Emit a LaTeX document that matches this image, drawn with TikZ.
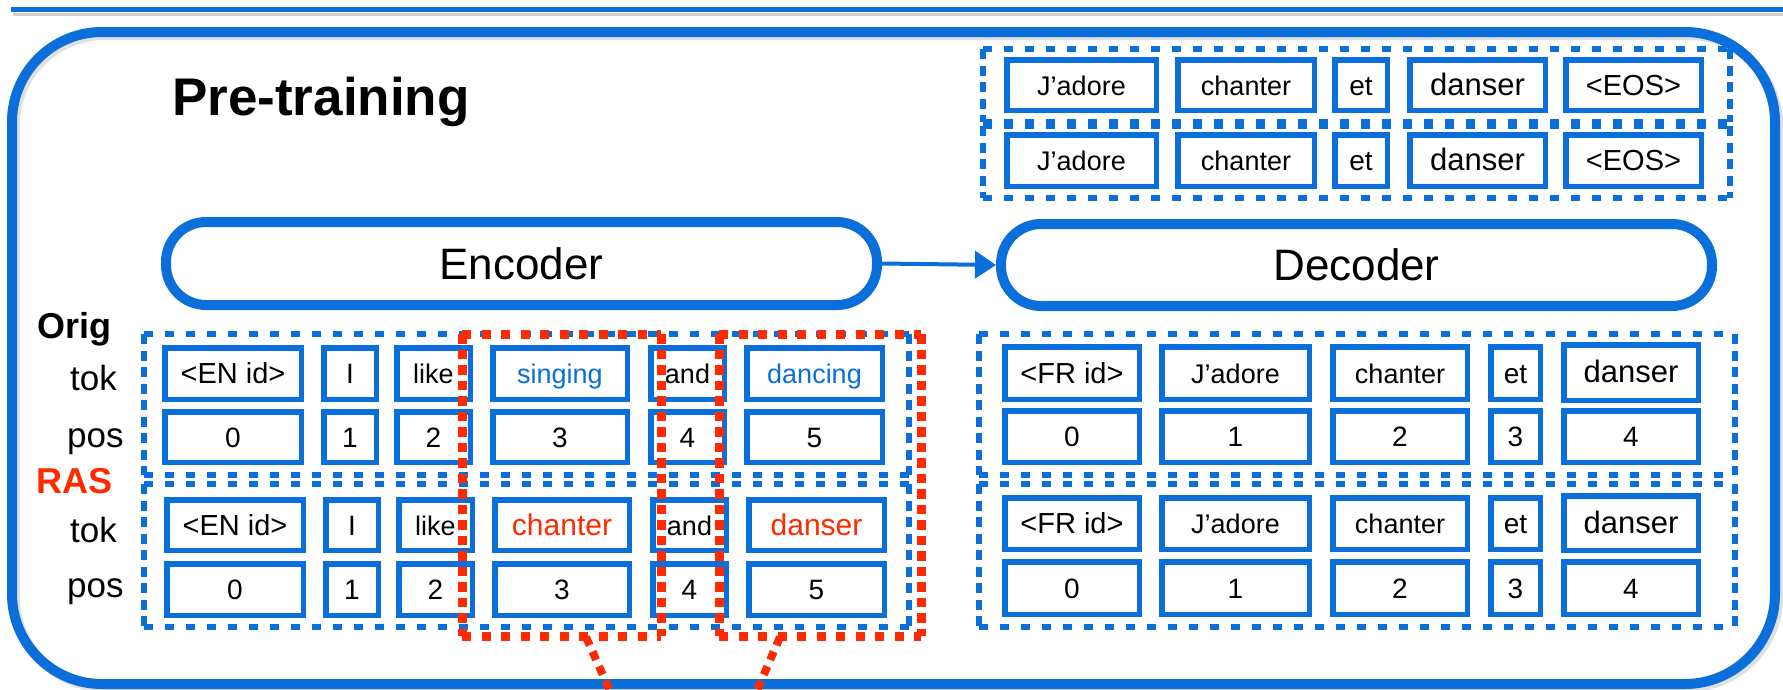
\documentclass[tikz,border=0pt]{standalone}
\usepackage{fontspec}
\setmainfont{Liberation Sans}
\usetikzlibrary{arrows.meta,shadows}
\definecolor{bl}{HTML}{0A6FDB}
\definecolor{rd}{HTML}{FF2A00}
\newcommand\fsz[1]{\fontsize{#1}{#1}\selectfont}
\newcommand\tkb[7]{%
  \node[tbox, font=\fsz{#6}, minimum width={(#3)-(#2)-5.5}, minimum height={(#5)-(#4)-5.5}]
    (#1) at ({((#2)+(#3))/2},{((#4)+(#5))/2}) {#7};}
% dashed frame around a named (invisible) node: #1 = horizontal style, #2 = vertical style, #3 = node
\newcommand\dfrm[3]{%
  \draw[#1] (#3.north west) -- (#3.north east);
  \draw[#1] (#3.south west) -- (#3.south east);
  \draw[#2] (#3.north west) -- (#3.south west);
  \draw[#2] (#3.north east) -- (#3.south east);}
\tikzset{
  shd/.style={drop shadow={shadow xshift=2.5pt, shadow yshift=-2.5pt, opacity=0.18, fill=black}},
  tbox/.style={draw=bl, line width=5.5pt, fill=white, inner sep=0pt, text height=20pt, text depth=0pt, shd},
  area/.style={inner sep=0pt, outer sep=0pt},
  bh/.style={bl, line width=6pt, dash pattern=on 9pt off 12pt},
  bv/.style={bl, line width=6pt, dash pattern=on 10pt off 6.5pt},
  rh/.style={rd, line width=9pt, dash pattern=on 9pt off 10.5pt},
  rv/.style={rd, line width=9pt, dash pattern=on 9.5pt off 6pt},
  bigbox/.style={draw=bl, line width=10pt, rounded corners=40pt, fill=white, inner sep=0pt, font=\fsz{44}, shd},
  lab/.style={anchor=base west, inner sep=0pt, font=\fsz{35}},
}
\begin{document}
\begin{tikzpicture}[x=1pt,y=-1pt]
\clip (0,0) rectangle (1783,689);
\fill[white] (0,0) rectangle (1783,689);
% top rule
\draw[black!30, line width=3pt, opacity=0.6] (13,14) -- (1783,14);
\draw[bl, line width=5pt] (11,9) -- (1783,9);
% outer frame
\draw[black, opacity=0.12, line width=10pt, rounded corners=90pt] (15,35) rectangle (1778,687);
\draw[bl, line width=10pt, rounded corners=90pt] (12,32) rectangle (1775,684);
% title
\node[anchor=base west, inner sep=0pt, font=\fsz{53}\bfseries] (title) at (172,115) {Pre-training};
% encoder / decoder
\node[bigbox, minimum width=711pt, minimum height=83pt] (enc) at (521.5,263.5) {Encoder};
\node[bigbox, minimum width=711pt, minimum height=82pt] (dec) at (1356.5,265) {Decoder};
\draw[bl, line width=4pt, -{Triangle[length=21pt,width=27pt]}] (enc.east) -- (dec.west);
% dashed group boxes
\node[area, minimum width=747pt, minimum height=73pt] (out1) at (1356.5,85.5) {};
\node[area, minimum width=747pt, minimum height=72pt] (out2) at (1356.5,162) {};
\node[area, minimum width=765pt, minimum height=141pt] (encO) at (526.5,404.5) {};
\node[area, minimum width=765pt, minimum height=143pt] (encR) at (526.5,555.5) {};
\node[area, minimum width=756pt, minimum height=141pt] (decO) at (1357,404.5) {};
\node[area, minimum width=756pt, minimum height=143pt] (decR) at (1357,555.5) {};
\dfrm{bh}{bv}{out1}
\dfrm{bh}{bv}{out2}
\dfrm{bh}{bv}{encO}
\dfrm{bh}{bv}{encR}
\dfrm{bh}{bv}{decO}
\dfrm{bh}{bv}{decR}
% output rows
\tkb{oa1}{1004}{1159}{57}{113}{27}{J’adore}
\tkb{oa2}{1175}{1317}{57}{113}{27}{chanter}
\tkb{oa3}{1332}{1390}{57}{113}{28}{et}
\tkb{oa4}{1407}{1548}{57}{113}{31}{danser}
\tkb{oa5}{1563}{1704}{57}{113}{29}{<EOS>}
\tkb{ob1}{1004}{1159}{132}{189}{27}{J’adore}
\tkb{ob2}{1175}{1317}{132}{189}{27}{chanter}
\tkb{ob3}{1332}{1390}{132}{189}{28}{et}
\tkb{ob4}{1407}{1548}{132}{189}{31}{danser}
\tkb{ob5}{1563}{1704}{132}{189}{29}{<EOS>}
% encoder original
\tkb{eot1}{162}{304}{345}{402}{29}{<EN id>}
\tkb{eot2}{321}{379}{345}{402}{28}{I}
\tkb{eot3}{394}{473}{345}{402}{27}{like}
\tkb{eot4}{490}{630}{345}{402}{27}{\color{bl}singing}
\tkb{eot5}{648}{727}{345}{402}{27}{and}
\tkb{eot6}{744}{885}{345}{402}{27}{\color{bl}dancing}
\tkb{eop1}{162}{304}{409}{465}{28}{0}
\tkb{eop2}{321}{379}{409}{465}{28}{1}
\tkb{eop3}{394}{473}{409}{465}{28}{2}
\tkb{eop4}{490}{630}{409}{465}{28}{3}
\tkb{eop5}{648}{727}{409}{465}{28}{4}
\tkb{eop6}{744}{885}{409}{465}{28}{5}
% encoder RAS
\tkb{ert1}{164}{306}{497}{553}{29}{<EN id>}
\tkb{ert2}{323}{381}{497}{553}{28}{I}
\tkb{ert3}{396}{475}{497}{553}{27}{like}
\tkb{ert4}{492}{632}{497}{553}{30}{\color{rd}chanter}
\tkb{ert5}{650}{729}{497}{553}{27}{and}
\tkb{ert6}{746}{887}{497}{553}{30}{\color{rd}danser}
\tkb{erp1}{164}{306}{561}{618}{28}{0}
\tkb{erp2}{323}{381}{561}{618}{28}{1}
\tkb{erp3}{396}{475}{561}{618}{28}{2}
\tkb{erp4}{492}{632}{561}{618}{28}{3}
\tkb{erp5}{650}{729}{561}{618}{28}{4}
\tkb{erp6}{746}{887}{561}{618}{28}{5}
% decoder original
\tkb{dot1}{1002}{1142}{344}{402}{29}{<FR id>}
\tkb{dot2}{1159}{1312}{344}{402}{27}{J’adore}
\tkb{dot3}{1330}{1470}{344}{402}{27}{chanter}
\tkb{dot4}{1488}{1543}{344}{402}{28}{et}
\tkb{dot5}{1561}{1701}{342}{403}{31}{danser}
\tkb{dop1}{1002}{1142}{408}{465}{28}{0}
\tkb{dop2}{1159}{1312}{408}{465}{28}{1}
\tkb{dop3}{1330}{1470}{408}{465}{28}{2}
\tkb{dop4}{1488}{1543}{408}{465}{28}{3}
\tkb{dop5}{1561}{1701}{408}{465}{28}{4}
% decoder RAS
\tkb{drt1}{1002}{1142}{495}{552}{29}{<FR id>}
\tkb{drt2}{1159}{1312}{495}{552}{27}{J’adore}
\tkb{drt3}{1330}{1470}{495}{552}{27}{chanter}
\tkb{drt4}{1488}{1543}{495}{552}{28}{et}
\tkb{drt5}{1561}{1701}{493}{553}{31}{danser}
\tkb{drp1}{1002}{1142}{559}{617}{28}{0}
\tkb{drp2}{1159}{1312}{559}{617}{28}{1}
\tkb{drp3}{1330}{1470}{559}{617}{28}{2}
\tkb{drp4}{1488}{1543}{559}{617}{28}{3}
\tkb{drp5}{1561}{1701}{559}{617}{28}{4}
% row labels
\node[lab, font=\fsz{36}\bfseries] (orig) at (37,338) {Orig};
\node[lab] (tok1) at (70,390) {tok};
\node[lab] (pos1) at (67,447) {pos};
\node[lab, font=\fsz{36}\bfseries, text=rd] (ras) at (36,493) {RAS};
\node[lab] (tok2) at (70,542) {tok};
\node[lab] (pos2) at (67,597) {pos};
% red boxes
\node[area, minimum width=199pt, minimum height=302pt] (redA) at (561.5,485) {};
\node[area, minimum width=202pt, minimum height=302pt] (redB) at (820,485) {};
\dfrm{rh}{rv}{redA}
\dfrm{rh}{rv}{redB}
\coordinate (ra0) at (586,637);
\coordinate (ra1) at (614,700);
\coordinate (rb0) at (780,637);
\coordinate (rb1) at (753,700);
\draw[rd, line width=8pt, dash pattern=on 9pt off 7pt] (ra0) -- (ra1);
\draw[rd, line width=8pt, dash pattern=on 9pt off 7pt] (rb0) -- (rb1);
\end{tikzpicture}
\end{document}
